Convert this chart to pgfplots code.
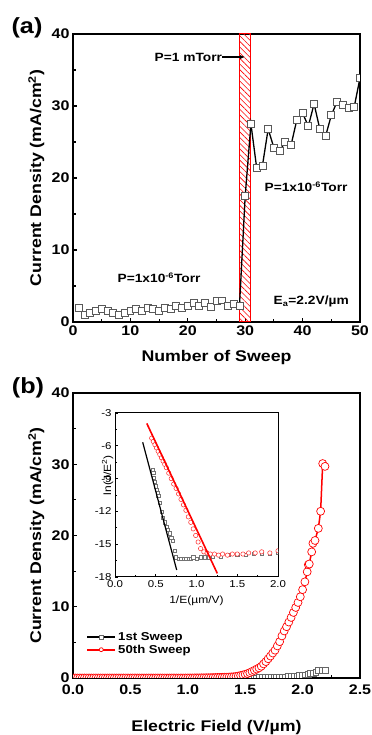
\documentclass[border=0pt]{standalone}
\usepackage{fontspec}
\setmainfont[FakeStretch=1.15]{Liberation Sans}
\usepackage{pgfplots}
\usepackage{pgfplotstable}
\pgfplotsset{compat=1.18}
\usetikzlibrary{patterns.meta,arrows.meta}
\newcommand\fs[1]{\fontsize{#1}{#1}\selectfont}

\pgfplotstableread{
x y
1 2.0
2 1.0
3 1.3
4 1.6
5 1.8
6 1.6
7 1.2
8 1.0
9 1.2
10 1.5
11 1.8
12 1.5
13 1.9
14 1.8
15 1.6
16 2.0
17 1.8
18 2.3
19 2.0
20 2.3
21 2.6
22 2.3
23 2.6
24 2.1
25 2.9
26 3.0
27 2.2
28 2.5
29 2.2
30 17.5
31 27.5
32 21.4
33 21.7
34 26.8
35 24.2
36 23.8
37 25.0
38 24.6
39 28.1
40 29.0
41 27.2
42 30.3
43 26.8
44 25.8
45 28.7
46 30.6
47 30.1
48 29.8
49 29.9
50 33.9
}\sweeps

\pgfplotstableread{
E J
0.00 0
0.02 0
0.04 0
0.06 0
0.08 0
0.10 0
0.12 0
0.14 0
0.16 0
0.18 0
0.20 0
0.22 0
0.24 0
0.26 0
0.28 0
0.30 0
0.32 0
0.34 0
0.36 0
0.38 0
0.40 0
0.42 0
0.44 0
0.46 0
0.48 0
0.50 0
0.52 0
0.54 0
0.56 0
0.58 0
0.60 0
0.62 0
0.64 0
0.66 0
0.68 0
0.70 0
0.72 0
0.74 0
0.76 0
0.78 0
0.80 0
0.82 0
0.84 0
0.86 0
0.88 0
0.90 0
0.92 0
0.94 0
0.96 0
0.98 0
1.00 0.01
1.02 0.01
1.04 0.01
1.06 0.02
1.08 0.02
1.10 0.02
1.12 0.03
1.14 0.03
1.16 0.04
1.18 0.05
1.20 0.05
1.22 0.06
1.24 0.07
1.26 0.08
1.28 0.09
1.30 0.10
1.32 0.11
1.34 0.12
1.36 0.14
1.38 0.16
1.40 0.18
1.42 0.22
1.44 0.28
1.46 0.35
1.48 0.42
1.50 0.52
1.52 0.62
1.54 0.75
1.56 0.92
1.58 1.08
1.60 1.25
1.62 1.42
1.64 1.65
1.66 1.98
1.68 2.3
1.70 2.7
1.72 3.08
1.74 3.5
1.76 3.9
1.78 4.5
1.80 5.1
1.82 5.9
1.84 6.6
1.86 7.2
1.88 7.85
1.90 8.5
1.92 9.2
1.94 9.9
1.96 10.6
1.98 11.4
2.00 12.4
2.02 13.5
2.04 14.9
2.05 15.9
2.058 16.0
2.079 17.7
2.09 18.9
2.108 19.3
2.137 21.0
2.157 23.4
2.175 30.1
2.195 29.7
}\fiftieth

\pgfplotstableread{
E J
0.000 0
0.025 0
0.050 0
0.075 0
0.100 0
0.125 0
0.150 0
0.175 0
0.200 0
0.225 0
0.250 0
0.275 0
0.300 0
0.325 0
0.350 0
0.375 0
0.400 0
0.425 0
0.450 0
0.475 0
0.500 0
0.525 0
0.550 0
0.575 0
0.600 0
0.625 0
0.650 0
0.675 0
0.700 0
0.725 0
0.750 0
0.775 0
0.800 0
0.825 0
0.850 0
0.875 0
0.900 0
0.925 0
0.950 0
0.975 0
1.000 0
1.025 0
1.050 0
1.075 0
1.100 0
1.125 0
1.150 0
1.175 0
1.200 0
1.225 0
1.250 0
1.275 0
1.300 0
1.325 0
1.350 0
1.375 0
1.400 0
1.425 0
1.450 0
1.475 0
1.500 0
1.525 0.01
1.550 0.01
1.575 0.02
1.600 0.02
1.625 0.03
1.650 0.03
1.675 0.04
1.700 0.05
1.725 0.06
1.750 0.07
1.775 0.08
1.800 0.10
1.825 0.12
1.850 0.14
1.875 0.17
1.900 0.20
1.925 0.23
1.950 0.27
1.975 0.32
2.000 0.38
2.025 0.45
2.050 0.52
2.070 0.60
2.090 0.66
2.115 0.85
2.140 1.02
2.170 1.10
2.200 1.12
}\first

\pgfplotstableread{
x y
0.45 -5.3
0.47 -5.6
0.49 -5.9
0.51 -6.2
0.53 -6.5
0.55 -6.8
0.57 -7.1
0.59 -7.4
0.61 -7.7
0.63 -8.0
0.66 -8.5
0.69 -9.0
0.72 -9.5
0.75 -9.9
0.78 -10.4
0.81 -10.9
0.84 -11.4
0.87 -11.9
0.90 -12.5
0.93 -13.0
0.96 -13.6
0.99 -14.2
1.02 -14.8
1.05 -15.4
1.09 -15.7
1.13 -15.8
1.17 -15.9
1.22 -15.9
1.27 -16.0
1.32 -15.9
1.38 -16.0
1.44 -15.9
1.50 -15.9
1.57 -15.9
1.64 -15.8
1.72 -15.8
1.80 -15.7
1.90 -15.8
2.00 -15.6
}\fnred

\pgfplotstableread{
x y
0.46 -8.2
0.47 -8.5
0.48 -8.9
0.49 -9.3
0.50 -9.7
0.51 -10.0
0.52 -10.3
0.53 -10.6
0.55 -11.2
0.57 -12.0
0.59 -12.6
0.61 -13.0
0.63 -13.4
0.65 -13.7
0.67 -14.0
0.69 -14.4
0.71 -14.7
0.73 -15.6
0.75 -16.2
0.78 -16.3
0.81 -16.3
0.84 -16.3
0.87 -16.3
0.90 -16.3
0.93 -16.3
0.96 -16.2
1.00 -16.3
1.05 -16.2
1.10 -16.2
1.15 -16.2
1.20 -16.1
1.30 -16.1
1.40 -16.0
1.50 -16.0
1.60 -16.0
1.70 -15.9
1.80 -15.9
1.90 -15.9
2.00 -15.8
}\fnblack

\begin{document}
\begin{tikzpicture}
\useasboundingbox (0bp,0bp) rectangle (372bp,735bp);
\pgfplotsset{
  common/.style={
    scale only axis,
    axis line style={line width=2bp},
    tick style={black, line width=1.2bp},
    major tick length=4bp, minor tick length=2.5bp,
    tick align=inside,
    xtick pos=bottom, ytick pos=left,
    ticklabel style={font=\fs{14}\bfseries},
    /pgf/number format/assume math mode=true,
    label style={font=\fs{15.5}\bfseries},
    clip marker paths=true,
  }
}
% ---------- panel (a)
\begin{axis}[common, at={(73bp,413bp)}, anchor=south west,
  width=287bp, height=288bp,
  xmin=0, xmax=50, ymin=0, ymax=40,
  xtick={0,10,...,50}, ytick={0,10,...,40},
  minor x tick num=1, minor y tick num=1,
  xlabel={Number of Sweep},
  ylabel={Current Density (mA/cm\textsuperscript{2})},
  xlabel style={at={(axis description cs:0.5,-0.125)}, anchor=center},
  ylabel style={at={(axis description cs:-0.128,0.5)}, anchor=center},
]
\addplot[draw=red, line width=1bp,
  pattern={Lines[angle=-45,distance=4bp,line width=0.6bp]}, pattern color=red]
  coordinates {(29,0) (29,40) (31,40) (31,0) (29,0)};
\addplot[black, line width=1.3bp, mark=square*, mark size=3.5,
  mark options={fill=white, draw=black!65, line width=0.8bp}]
  table[x=x, y=y] {\sweeps};
\draw[-{Latex[length=5bp,width=4bp]}, line width=1.5bp] (axis cs:25.4,36.8) -- (axis cs:30,36.8);
\node[font=\fs{12}\bfseries, anchor=east, inner sep=0pt, fill=white] at (axis cs:26.0,36.8) {P=1 mTorr};
\node[font=\fs{12}\bfseries] at (axis cs:40.6,18.8) {P=1x10\textsuperscript{-6}Torr};
\node[font=\fs{12}\bfseries] at (axis cs:15,6.1) {P=1x10\textsuperscript{-6}Torr};
\node[font=\fs{12}\bfseries] at (axis cs:41.5,2.8) {E\textsubscript{a}=2.2V/µm};
\end{axis}
% ---------- panel (b)
\begin{axis}[common, at={(73bp,57bp)}, anchor=south west,
  width=287bp, height=285bp,
  xmin=0, xmax=2.5, ymin=0, ymax=40,
  xtick={0,0.5,...,2.5}, ytick={0,10,...,40},
  minor x tick num=1, minor y tick num=1,
  xticklabel style={yshift=-3bp, /pgf/number format/.cd, fixed, fixed zerofill, precision=1},
  xlabel={Electric Field (V/µm)},
  ylabel={Current Density (mA/cm\textsuperscript{2})},
  xlabel style={at={(axis description cs:0.5,-0.172)}, anchor=center},
  ylabel style={at={(axis description cs:-0.128,0.5)}, anchor=center},
  legend style={draw=none, fill=none, font=\fs{11.5}\bfseries,
    at={(0.035,0.175)}, anchor=north west, row sep=-1bp},
  legend cell align=left,
  legend image code/.code={\draw[mark repeat=2, mark phase=2, #1, line width=2bp, mark size=2]
    plot coordinates {(0bp,0bp) (14bp,0bp) (28bp,0bp)};},
]
\addplot[black, line width=1.5bp, mark=square*, mark size=3,
  mark options={fill=white, draw=black!60, line width=0.6bp}]
  table[x=E, y=J] {\first};
\addlegendentry{1st Sweep}
\addplot[red, line width=1.5bp, mark=*, mark size=4,
  mark options={fill=white, draw=red, line width=0.7bp}]
  table[x=E, y=J] {\fiftieth};
\addlegendentry{50th Sweep}
\end{axis}
% ---------- inset
\begin{axis}[scale only axis, at={(115bp,158bp)}, anchor=south west,
  width=163bp, height=164bp,
  axis line style={line width=1bp},
  axis background/.style={fill=white},
  tick style={black, line width=0.7bp},
  major tick length=3bp, minor tick length=2bp,
  tick align=inside, xtick pos=bottom, ytick pos=left,
  xmin=0, xmax=2, ymin=-18, ymax=-3,
  xtick={0,0.5,...,2}, ytick={-18,-15,...,-3},
  minor x tick num=1, minor y tick num=1,
  ticklabel style={font=\fs{10}},
  /pgf/number format/assume math mode=true,
  xticklabel style={/pgf/number format/.cd, fixed, fixed zerofill, precision=1},
  label style={font=\fs{10.5}},
  xlabel={1/E(µm/V)},
  ylabel={ln(J/E\textsuperscript{2})},
  xlabel style={at={(axis description cs:0.5,-0.146)}, anchor=center},
  ylabel style={at={(axis description cs:-0.045,0.62)}, anchor=center},
  clip marker paths=true,
]
\addplot[only marks, mark=square*, mark size=1.6,
  mark options={fill=white, draw=black!55, line width=0.5bp}]
  table[x=x, y=y] {\fnblack};
\addplot[only marks, mark=*, mark size=2.2,
  mark options={fill=white, draw=red!85, line width=0.5bp}]
  table[x=x, y=y] {\fnred};
\addplot[black, line width=1.2bp] coordinates {(0.34,-5.68) (0.757,-17.36)};
\addplot[red, line width=1.6bp] coordinates {(0.39,-3.95) (1.255,-17.67)};
\end{axis}
% panel letters
\node[font=\fs{22}\bfseries] at (27bp,707bp) {(a)};
\node[font=\fs{22}\bfseries] at (28bp,347bp) {(b)};
\end{tikzpicture}
\end{document}
